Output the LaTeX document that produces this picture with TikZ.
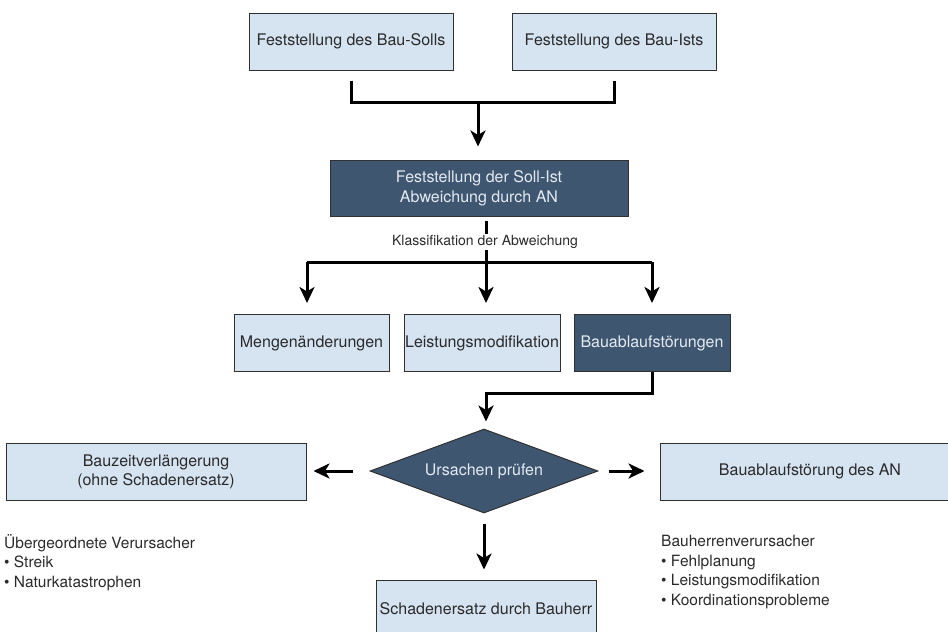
\documentclass[tikz,border=0pt]{standalone}
\usepackage{fontspec}
\setmainfont{TeX Gyre Heros}
\usetikzlibrary{arrows.meta,shapes.geometric}
\definecolor{lightbox}{HTML}{D6E3F1}
\definecolor{darkbox}{HTML}{3F5670}
\definecolor{boxline}{HTML}{303030}
\definecolor{txt}{HTML}{2A2A2A}
\definecolor{lighttxt}{HTML}{E4EAF2}
\tikzset{
  lbox/.style={draw=boxline, line width=1pt, fill=lightbox, text=txt, inner sep=0pt,
    font=\fontsize{16}{20}\selectfont, align=center},
  dbox/.style={draw=boxline, line width=1pt, fill=darkbox, text=lighttxt, inner sep=0pt,
    font=\fontsize{16}{20}\selectfont, align=center},
  conn/.style={line width=3pt, draw=black},
  arr/.style={line width=3pt, draw=black, -{Stealth[length=16pt,width=15pt,inset=4.5pt]}},
  listtext/.style={font=\fontsize{15.5}{19.7}\selectfont, text=txt, align=left, inner sep=0pt, anchor=north west},
}
\begin{document}
\begin{tikzpicture}[x=1pt,y=-1pt]
\useasboundingbox (0,0) rectangle (948,632);
% boxes
\node[lbox, minimum width=204pt, minimum height=57pt] (soll) at (351,41.5) {Feststellung des Bau-Solls};
\node[lbox, minimum width=204pt, minimum height=57pt] (ist) at (614,41.5) {Feststellung des Bau-Ists};
\node[dbox, minimum width=298pt, minimum height=56pt] (dark) at (479,188) {Feststellung der Soll-Ist\\Abweichung durch AN};
\node[lbox, minimum width=155pt, minimum height=57pt] (mengen) at (311.5,343) {Mengenänderungen};
\node[lbox, minimum width=156pt, minimum height=57pt] (leist) at (482,343) {Leistungsmodifikation};
\node[dbox, minimum width=156pt, minimum height=57pt] (bauab) at (652,343) {Bauablaufstörungen};
\node[dbox, shape=diamond, shape aspect=2.7, minimum width=228pt, minimum height=84pt] (dia) at (484,471) {Ursachen prüfen};
\node[lbox, minimum width=300pt, minimum height=57pt, font=\fontsize{16}{19}\selectfont] (bauzeit) at (156,471.5) {Bauzeitverlängerung\\(ohne Schadenersatz)};
\node[lbox, minimum width=292pt, minimum height=57pt] (bauan) at (806,471.5) {\hspace*{8pt}Bauablaufstörung des AN};
\node[lbox, minimum width=220pt, minimum height=60pt] (schaden) at (486,610) {\raisebox{2pt}{Schadenersatz durch Bauherr}};
% connectors top
\coordinate (j1) at (478,102);
\draw[conn] ([yshift=-10pt]soll.south) |- (j1) -| ([yshift=-10pt]ist.south);
\draw[arr, shorten >=13pt] (j1) -- (j1 |- dark.north);
% classification
\coordinate (j2) at (486,262);
\coordinate (jl) at (307,262);
\coordinate (jr) at (652,262);
\draw[conn, shorten <=4pt] (j2 |- dark.south) -- (j2);
\node[fill=white, inner sep=1pt, font=\fontsize{14}{16}\selectfont, text=txt] (klass) at (485,242) {Klassifikation der Abweichung};
\draw[conn] (jl) -- (jr);
\draw[arr, shorten >=11pt] (jl) -- (jl |- mengen.north);
\draw[arr, shorten >=11pt] (j2) -- (j2 |- leist.north);
\draw[arr, shorten >=11pt] (jr) -- (jr |- bauab.north);
% to diamond
\coordinate (j3) at (486,393);
\draw[arr, shorten >=7pt] (bauab.south) |- (j3) -- (j3 |- dia.north);
% from diamond
\draw[arr, shorten <=17pt, shorten >=7pt] (dia.west) -- (dia.west -| bauzeit.east);
\draw[arr, shorten <=10pt, shorten >=15pt] (dia.east) -- (dia.east -| bauan.west);
\draw[arr, shorten <=10pt, shorten >=10pt] (dia.south) -- (dia.south |- schaden.north);
% lists
\node[listtext] (listl) at (4,534) {Übergeordnete Verursacher\\• Streik\\• Naturkatastrophen};
\node[listtext] (listr) at (661,535) {Bauherrenverursacher\\• Fehlplanung\\• Leistungsmodifikation\\• Koordinationsprobleme};
\end{tikzpicture}
\end{document}
